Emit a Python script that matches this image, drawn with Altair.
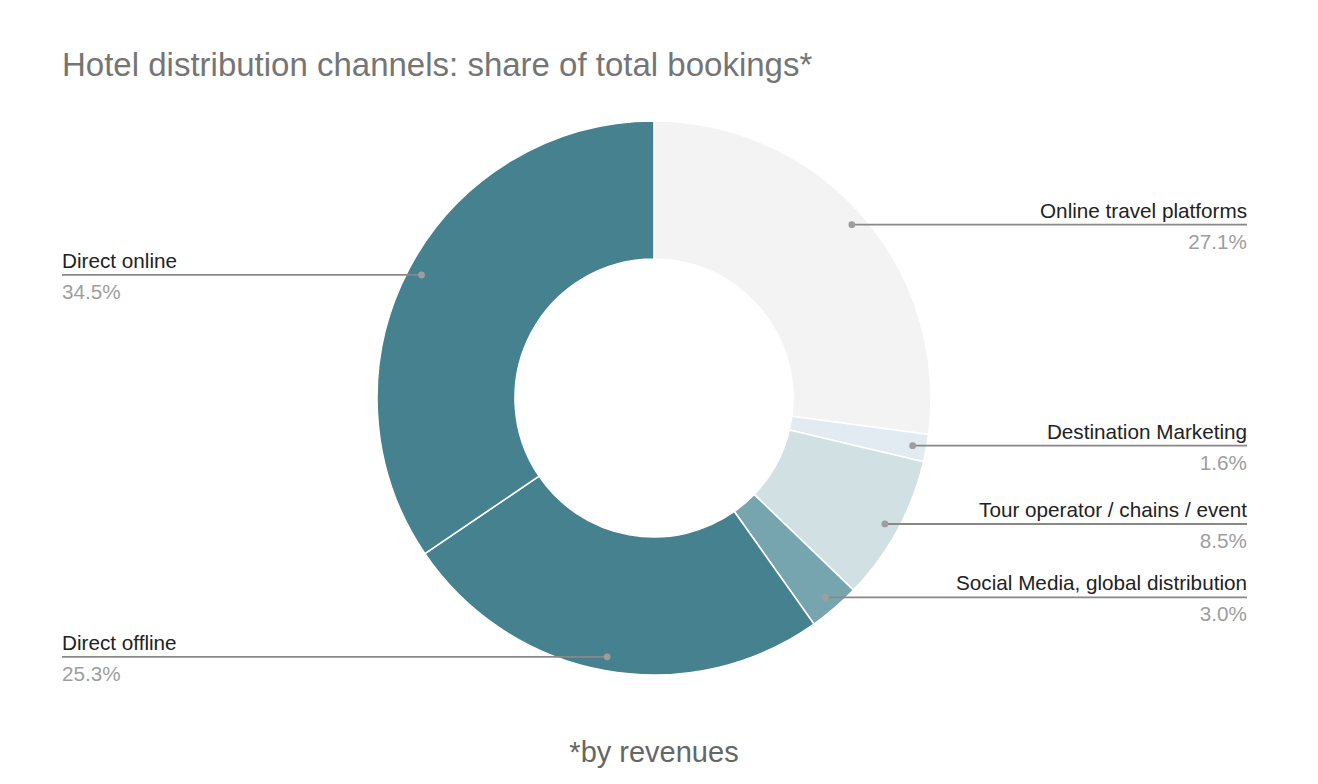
import math
import altair as alt
import pandas as pd

# ---- data ----
channels = [
    "Online travel platforms",
    "Destination Marketing",
    "Tour operator / chains / event",
    "Social Media, global distribution",
    "Direct offline",
    "Direct online",
]
shares = [27.1, 1.6, 8.5, 3.0, 25.3, 34.5]
colors = ["#f3f3f3", "#e2eaf2", "#d0e0e3", "#76a5af", "#45818e", "#45818e"]
title_text = "Hotel distribution channels: share of total bookings*"
note_text = "*by revenues"

# ---- layout ----
W, H = 1302, 768
CX, CY = 646, 390
R_OUT, R_IN = 277, 139
R_DOT = 263
X_LEFT, X_RIGHT = 54, 1239
FONT = "Liberation Sans"

total = sum(shares)
rows = []
cum = 0.0
for i, (c, v) in enumerate(zip(channels, shares)):
    mid = (cum + v / 2) / total * 2 * math.pi
    cum += v
    s = math.sin(mid)
    side = "right" if s >= 0 else "left"
    rows.append(dict(
        idx=i, channel=c, share=v, pct=f"{v:.1f}%",
        dot_x=CX + R_DOT * s, dot_y=CY - R_DOT * math.cos(mid),
        side=side, edge_x=X_RIGHT if side == "right" else X_LEFT,
    ))
df = pd.DataFrame(rows)

xs = alt.Scale(domain=[0, W], range=[0, W], nice=False, zero=False)
ys = alt.Scale(domain=[0, H], range=[0, H], nice=False, zero=False)

base = alt.Chart(df)

arcs = base.mark_arc(
    outerRadius=R_OUT, innerRadius=R_IN, stroke="white", strokeWidth=1.6
).encode(
    theta=alt.Theta("share:Q", stack=True),
    color=alt.Color("channel:N", scale=alt.Scale(domain=channels, range=colors), legend=None),
    order=alt.Order("idx:Q", sort="ascending"),
    x=alt.value(CX),
    y=alt.value(CY),
)

rules = base.mark_rule(color="#888888", strokeWidth=1.8).encode(
    x=alt.X("dot_x:Q", scale=xs, axis=None),
    x2="edge_x:Q",
    y=alt.Y("dot_y:Q", scale=ys, axis=None),
)

dots = base.mark_circle(size=45, color="#9e9e9e", opacity=1).encode(
    x=alt.X("dot_x:Q", scale=xs, axis=None),
    y=alt.Y("dot_y:Q", scale=ys, axis=None),
)

def side_text(side, field, dy, color):
    return base.transform_filter(alt.datum.side == side).mark_text(
        align="right" if side == "right" else "left",
        baseline="alphabetic", dy=dy, fontSize=20.7, font=FONT, color=color,
    ).encode(
        x=alt.X("edge_x:Q", scale=xs, axis=None),
        y=alt.Y("dot_y:Q", scale=ys, axis=None),
        text=f"{field}:N",
    )

labels = [
    side_text("right", "channel", -7, "#222222"),
    side_text("left", "channel", -7, "#222222"),
    side_text("right", "pct", 24, "#9e9e9e"),
    side_text("left", "pct", 24, "#9e9e9e"),
]

title = alt.Chart(pd.DataFrame({"t": [title_text]})).mark_text(
    align="left", baseline="alphabetic", fontSize=33, font=FONT, color="#757575"
).encode(x=alt.value(54), y=alt.value(68), text="t:N")

note = alt.Chart(pd.DataFrame({"t": [note_text]})).mark_text(
    align="center", baseline="alphabetic", fontSize=29, font=FONT, color="#666666"
).encode(x=alt.value(CX), y=alt.value(754), text="t:N")

chart = alt.layer(arcs, rules, dots, *labels, title, note).properties(
    width=W, height=H, padding=0,
    autosize=alt.AutoSizeParams(type="none"),
).configure_view(stroke=None).resolve_scale(x="shared", y="shared")

chart.save("out.html", embed_options={"renderer": "svg", "actions": False})
